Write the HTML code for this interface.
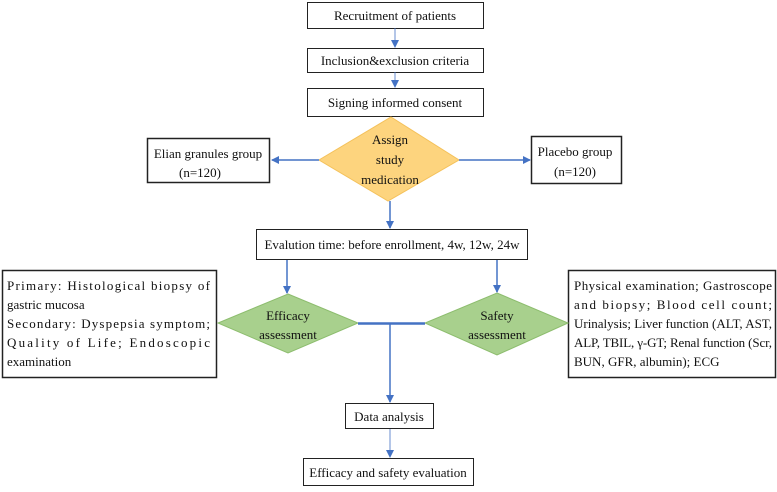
<!DOCTYPE html>
<html><head><meta charset="utf-8"><style>
html,body{margin:0;padding:0;background:#fff;}
svg text{font-family:"Liberation Serif",serif;font-size:13px;fill:#111;}
</style></head><body>
<svg width="777" height="487" viewBox="0 0 777 487" xmlns="http://www.w3.org/2000/svg">
<defs>
<marker id="a" markerWidth="8" markerHeight="8" refX="7" refY="4" orient="auto" markerUnits="userSpaceOnUse">
<path d="M0,0 L8,4 L0,8 z" fill="#4472c4"/></marker>
</defs>
<g fill="#fff" stroke="#222" stroke-width="1">
<rect x="307.5" y="2.5" width="176" height="26"/>
<rect x="307.5" y="48.5" width="176" height="24"/>
<rect x="307.5" y="88.5" width="176" height="28"/>
<rect x="147.5" y="138.5" width="122" height="44" stroke-width="1.5"/>
<rect x="531.5" y="136.5" width="90" height="47" stroke-width="1.5"/>
<rect x="256.5" y="229.5" width="271" height="30"/>
<rect x="2.5" y="270.5" width="214" height="107" stroke-width="1.5"/>
<rect x="568.5" y="270.5" width="207" height="107" stroke-width="1.5"/>
<rect x="345.5" y="403.5" width="88" height="25"/>
<rect x="303.5" y="458.5" width="170" height="27"/>
</g>
<polygon points="391,117 459,160 388,201 319,160" fill="#fdd47e" stroke="#f4c15a"/>
<polygon points="288,294 358,323 288,353 218,323" fill="#a8d08d" stroke="#8dbd6e"/>
<polygon points="497,293 568,323 497,355 425,323" fill="#a8d08d" stroke="#8dbd6e"/>
<g stroke="#4472c4" fill="none">
<line x1="395" y1="28" x2="395" y2="47" marker-end="url(#a)" stroke-width="0.8"/>
<line x1="395" y1="72" x2="395" y2="87" marker-end="url(#a)" stroke-width="0.8"/>
<line x1="319" y1="160" x2="272" y2="160" marker-end="url(#a)" stroke-width="1.5"/>
<line x1="459" y1="160" x2="530" y2="160" marker-end="url(#a)" stroke-width="1.5"/>
<line x1="390" y1="201" x2="390" y2="228" marker-end="url(#a)" stroke-width="1.5"/>
<line x1="287" y1="260" x2="287" y2="293" marker-end="url(#a)" stroke-width="1.5"/>
<line x1="497" y1="260" x2="497" y2="292" marker-end="url(#a)" stroke-width="1.5"/>
<line x1="358" y1="323.5" x2="425" y2="323.5" stroke-width="2.5"/>
<line x1="390" y1="323" x2="390" y2="402" marker-end="url(#a)" stroke-width="1.5"/>
<line x1="390" y1="429" x2="390" y2="457" marker-end="url(#a)" stroke-width="0.8"/>
</g>
<g text-anchor="middle">
<text x="395" y="20">Recruitment of patients</text>
<text x="395" y="65">Inclusion&amp;exclusion criteria</text>
<text x="395" y="107">Signing informed consent</text>
<text x="390" y="144">Assign</text>
<text x="390" y="164">study</text>
<text x="390" y="184">medication</text>
<text x="208" y="158">Elian granules group</text>
<text x="200" y="177">(n=120)</text>
<text x="575" y="156">Placebo group</text>
<text x="575" y="176">(n=120)</text>
<text x="392" y="249">Evalution time: before enrollment, 4w, 12w, 24w</text>
<text x="288" y="320">Efficacy</text>
<text x="288" y="339">assessment</text>
<text x="497" y="320">Safety</text>
<text x="497" y="339">assessment</text>
<text x="389" y="421">Data analysis</text>
<text x="388" y="477">Efficacy and safety evaluation</text>
</g>
<g>
<text x="7" y="290" textLength="203" lengthAdjust="spacing">Primary:   Histological   biopsy   of</text>
<text x="7" y="309">gastric mucosa</text>
<text x="7" y="328" textLength="203" lengthAdjust="spacing">Secondary:  Dyspepsia  symptom;</text>
<text x="7" y="347" textLength="203" lengthAdjust="spacing">Quality   of   Life;   Endoscopic</text>
<text x="7" y="366">examination</text>
<text x="574" y="290" textLength="198" lengthAdjust="spacing">Physical examination; Gastroscope</text>
<text x="574" y="309" textLength="198" lengthAdjust="spacing">and  biopsy;  Blood  cell  count;</text>
<text x="574" y="328" textLength="198" lengthAdjust="spacing">Urinalysis; Liver function (ALT, AST,</text>
<text x="574" y="347" textLength="198" lengthAdjust="spacing">ALP, TBIL, γ-GT; Renal function (Scr,</text>
<text x="574" y="366">BUN, GFR, albumin); ECG</text>
</g>
</svg>
</body></html>
